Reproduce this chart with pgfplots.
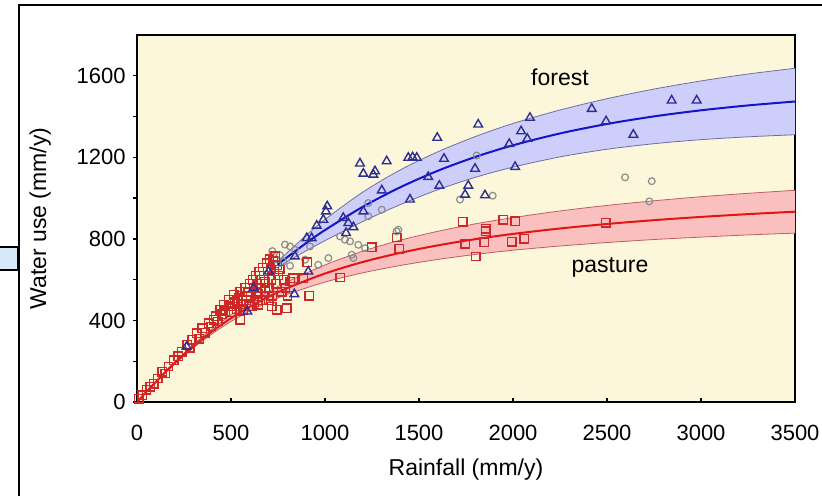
\documentclass[border=0pt]{standalone}
\usepackage{fontspec}
\setmainfont{Liberation Sans}
\usepackage{pgfplots}
\usepackage{pgfplotstable}
\usepgfplotslibrary{fillbetween}
\pgfplotsset{compat=1.18}

\definecolor{bgyellow}{RGB}{252,247,219}
\definecolor{fbandfill}{RGB}{206,206,250}
\definecolor{fbandedge}{RGB}{110,110,165}
\definecolor{fline}{RGB}{20,20,200}
\definecolor{pbandfill}{RGB}{250,192,192}
\definecolor{pbandedge}{RGB}{190,95,95}
\definecolor{pline}{RGB}{228,20,20}
\definecolor{tricol}{RGB}{45,45,150}
\definecolor{sqcol}{RGB}{205,40,40}
\definecolor{circcol}{RGB}{140,140,140}
\definecolor{boxblue}{RGB}{215,232,248}

% fitted curves with bands: P, ET, lower, upper
\pgfplotstableread{
P ET lo hi
750 674.6 659.6 689.6
800 710.9 688.9 732.9
900 779.6 741.6 817.6
1000 843.4 791.4 895.4
1200 956.9 884.9 1028.9
1400 1053.1 968.1 1138.1
1600 1134.2 1041.2 1227.2
1800 1202.1 1102.1 1302.1
2000 1259.1 1152.1 1366.1
2250 1317.2 1202.2 1432.2
2500 1363.7 1239.7 1487.7
2750 1400.9 1266.9 1534.9
3000 1430.7 1286.7 1574.7
3250 1454.6 1300.6 1608.6
3500 1473.9 1310.9 1636.9
}\forestfit

\pgfplotstableread{
P ET lo hi
0 0 0 0
100 98.6 96.6 100.6
200 190.7 185.7 195.7
300 273.7 265.7 281.7
400 346.9 334.9 358.9
500 411.0 395.0 427.0
600 467.1 446.1 488.1
700 516.1 490.1 542.1
800 559.1 528.1 590.1
1000 630.3 588.3 672.3
1200 686.5 633.5 739.5
1400 731.5 669.5 793.5
1600 768.3 699.3 837.3
1800 798.8 723.8 873.8
2000 824.4 744.4 904.4
2250 851.1 765.1 937.1
2500 873.2 782.2 964.2
2750 891.9 796.9 986.9
3000 907.8 808.8 1006.8
3250 921.5 819.5 1023.5
3500 933.4 828.4 1038.4
}\pasturefit

% observations
\pgfplotstableread{
P ET
10 15
27 34
50 60
71 75
89 90
110 115
133 149
150 140
168 174
195 206
220 225
239 247
266 280
280 265
293 305
319 338
330 310
346 362
360 340
381 387
395 370
408 403
420 420
430 395
443 452
450 430
461 477
470 445
488 501
495 470
505 440
514 526
520 490
530 455
540 510
548 540
555 480
560 520
565 450
575 560
580 500
590 540
595 470
600 580
605 520
615 600
620 560
625 490
630 620
640 580
645 530
650 640
655 600
660 560
665 500
670 660
675 620
680 590
690 680
695 640
700 560
705 700
710 660
715 600
720 520
725 690
730 640
735 715
740 580
745 670
750 620
760 650
770 540
780 600
790 560
800 520
640 500
700 500
548 403
610 468
645 477
681 542
716 468
743 452
796 460
814 591
831 608
885 608
906 685
916 521
1080 611
1248 760
1381 807
1395 752
1732 883
1745 776
1803 714
1846 783
1856 849
1856 837
1948 894
1993 785
2011 886
2060 800
2493 878
}\pastureobs

\pgfplotstableread{
P ET
264 272
587 444
620 560
700 640
837 529
840 714
911 640
903 804
929 804
956 865
991 894
1005 935
1012 960
1097 903
1112 829
1124 878
1151 858
1186 1170
1204 1120
1204 935
1257 1115
1266 1132
1302 1038
1328 1181
1443 1198
1452 993
1466 1200
1488 1198
1549 1104
1597 1296
1608 1061
1633 1193
1745 1017
1762 1061
1798 1144
1815 1361
1851 1014
1980 1266
2011 1153
2043 1328
2076 1291
2090 1394
2419 1438
2495 1377
2640 1311
2844 1479
2977 1479
831 -12
}\forestobs

\pgfplotstableread{
P ET
720 740
740 700
760 720
778 689
787 772
814 763
814 668
840 747
894 698
920 763
964 673
1018 706
1080 812
1106 796
1133 788
1142 722
1151 706
1177 771
1213 755
1230 976
1230 911
1302 943
1381 837
1390 845
1718 993
1807 1209
1892 1012
2596 1102
2725 984
2738 1083
}\mixedobs

\begin{document}
\begin{tikzpicture}[x=1pt,y=1pt]
% slide frame around the figure
\begin{scope}
  \clip (0,0) rectangle (411,247.5);
  \draw[line width=1pt] (9.5,-10) rectangle (430,245);
  \draw[line width=0.8pt, fill=boxblue] (-5,112.5) rectangle (9,124);
\end{scope}
\begin{axis}[
  at={(68.5pt,46.5pt)}, anchor=south west,
  scale only axis,
  width=329pt, height=183.5pt,
  xmin=0, xmax=3500, ymin=0, ymax=1800,
  axis background/.style={fill=bgyellow},
  axis line style={line width=0.9pt},
  xtick={0,500,...,3500},
  ytick={0,400,...,1600},
  minor ytick={200,600,1000,1400},
  xtick pos=bottom, ytick pos=left,
  xtick align=inside, ytick align=outside,
  major tick length=2.2pt, minor tick length=2.2pt,
  tick style={line width=0.7pt, black},
  scaled ticks=false,
  /pgf/number format/1000 sep={},
  /pgf/number format/assume math mode=true,
  ticklabel style={font=\fontsize{11}{13}\selectfont},
  xticklabel shift=8pt,
  label style={font=\fontsize{11.5}{13}\selectfont},
  xlabel={Rainfall (mm/y)},
  ylabel={Water use (mm/y)},
  xlabel style={at={(axis description cs:0.5,-0.185)}, anchor=center},
  ylabel style={at={(axis description cs:-0.147,0.5)}, anchor=center},
]
% bands
\addplot[draw=none, name path=pup] table[x=P,y=hi]{\pasturefit};
\addplot[draw=none, name path=plo] table[x=P,y=lo]{\pasturefit};
\addplot[pbandfill, draw=none] fill between[of=pup and plo];
\addplot[draw=none, name path=fup] table[x=P,y=hi]{\forestfit};
\addplot[draw=none, name path=flo] table[x=P,y=lo]{\forestfit};
\addplot[fbandfill, draw=none] fill between[of=fup and flo];
\addplot[pbandedge, line width=0.4pt, smooth] table[x=P,y=hi]{\pasturefit};
\addplot[pbandedge, line width=0.4pt, smooth] table[x=P,y=lo]{\pasturefit};
\addplot[fbandedge, line width=0.4pt, smooth] table[x=P,y=hi]{\forestfit};
\addplot[fbandedge, line width=0.4pt, smooth] table[x=P,y=lo]{\forestfit};
% observations
\addplot[only marks, mark=o, mark size=1.7pt, circcol, mark options={line width=0.6pt}] table[x=P,y=ET]{\mixedobs};
\addplot[only marks, mark=square, mark size=2.1pt, sqcol, mark options={line width=0.7pt}] table[x=P,y=ET]{\pastureobs};
\addplot[only marks, mark=triangle, mark size=2.5pt, tricol, mark options={line width=0.7pt}] table[x=P,y=ET]{\forestobs};
% fitted curves
\addplot[pline, line width=1pt, smooth] table[x=P,y=ET]{\pasturefit};
\addplot[fline, line width=1pt, smooth] table[x=P,y=ET]{\forestfit};
\node[font=\fontsize{11.5}{13}\selectfont] at (axis cs:2250,1592) {forest};
\node[font=\fontsize{11.5}{13}\selectfont] at (axis cs:2516,658) {pasture};
\end{axis}
\pgfresetboundingbox
\path[use as bounding box] (0,0) rectangle (411,247.5);
\end{tikzpicture}
\end{document}
